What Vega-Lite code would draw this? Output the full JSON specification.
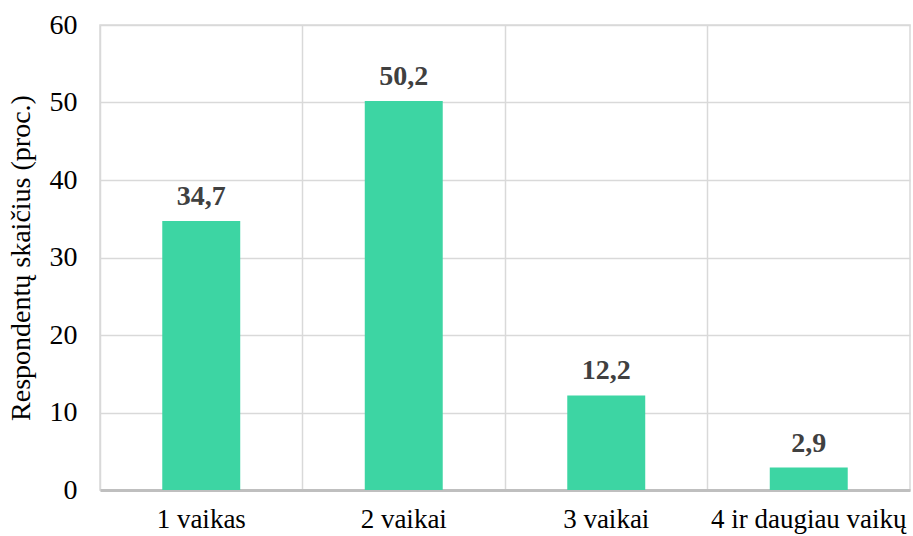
{
  "$schema": "https://vega.github.io/schema/vega-lite/v6.json",
  "width": 810,
  "height": 465,
  "autosize": {"type": "none"},
  "padding": {"left": 100, "right": 3, "top": 25, "bottom": 46},
  "background": "white",
  "data": {
    "values": [
      {"kategorija": "1 vaikas", "proc": 34.7, "label": "34,7"},
      {"kategorija": "2 vaikai", "proc": 50.2, "label": "50,2"},
      {"kategorija": "3 vaikai", "proc": 12.2, "label": "12,2"},
      {"kategorija": "4 ir daugiau vaikų", "proc": 2.9, "label": "2,9"}
    ]
  },
  "encoding": {
    "x": {
      "field": "kategorija",
      "type": "nominal",
      "sort": null,
      "scale": {"paddingInner": 0, "paddingOuter": 0},
      "axis": {
        "title": null,
        "labelAngle": 0,
        "labelFont": "Liberation Serif",
        "labelFontSize": 27,
        "labelColor": "#000000",
        "labelPadding": 16,
        "labelOverlap": false,
        "labelLimit": 0,
        "ticks": false,
        "grid": true,
        "bandPosition": 0,
        "gridColor": "#d9d9d9",
        "gridWidth": 1.5,
        "domainColor": "#bfbfbf",
        "domainWidth": 3
      }
    },
    "y": {
      "field": "proc",
      "type": "quantitative",
      "scale": {"domain": [0, 60]},
      "axis": {
        "title": "Respondentų skaičius (proc.)",
        "titleFont": "Liberation Serif",
        "titleFontSize": 28,
        "titleFontWeight": "normal",
        "titleColor": "#000000",
        "titlePadding": 14,
        "values": [0, 10, 20, 30, 40, 50, 60],
        "labelFont": "Liberation Serif",
        "labelFontSize": 28,
        "labelColor": "#000000",
        "labelPadding": 23,
        "ticks": false,
        "domain": false,
        "grid": true,
        "gridColor": "#d9d9d9",
        "gridWidth": 1.5
      }
    }
  },
  "layer": [
    {
      "mark": {"type": "bar", "width": {"band": 0.385}, "color": "#3dd5a3"}
    },
    {
      "mark": {
        "type": "text",
        "baseline": "alphabetic",
        "dy": -16,
        "font": "Liberation Serif",
        "fontSize": 28,
        "fontWeight": "bold",
        "color": "#404040"
      },
      "encoding": {"text": {"field": "label"}}
    }
  ],
  "config": {
    "font": "Liberation Serif",
    "view": {"stroke": "#d9d9d9", "strokeWidth": 1.5}
  }
}
